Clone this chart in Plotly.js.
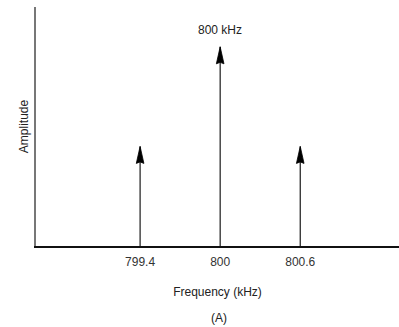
<!DOCTYPE html>
<html>
<head>
<meta charset="utf-8">
<script src="https://cdn.plot.ly/plotly-3.0.1.min.js"></script>
<style>html,body{margin:0;padding:0;background:#fff;}#chart{width:399px;height:327px;}</style>
</head>
<body>
<div id="chart"></div>
<script>
// Data
var freqs = [799.4, 800, 800.6];          // kHz
var amps = [0.5, 1.0, 0.5];               // relative amplitude
var tickVals = [799.4, 800, 800.6];
var tickText = ['799.4', '800', '800.6'];
var carrierLabel = '800 kHz';
var carrierFreq = 800;
var carrierAmp = 1.0;

// Stems built from the data arrays
var sx = [], sy = [];
for (var i = 0; i < freqs.length; i++) {
  sx.push(freqs[i], freqs[i], null);
  sy.push(0, amps[i], null);
}

var stems = {
  x: sx, y: sy, type: 'scatter', mode: 'lines',
  line: {color: '#1a1a1a', width: 1.2},
  hoverinfo: 'skip', showlegend: false
};

// Arrowheads: pixel-sized triangles anchored at each data tip
var shapes = freqs.map(function (f, i) {
  return {
    type: 'path', xref: 'x', yref: 'y',
    xsizemode: 'pixel', ysizemode: 'pixel',
    xanchor: f, yanchor: amps[i],
    path: 'M0,0 L-3.8,-17 L0,-15.5 L3.8,-17 Z',
    fillcolor: '#000', line: {color: '#000', width: 0.8}
  };
});

var fontFam = 'Liberation Sans, Arial, sans-serif';

var layout = {
  width: 399, height: 327,
  margin: {l: 36, r: 0, t: 7, b: 81, pad: 0},
  paper_bgcolor: '#fff', plot_bgcolor: '#fff',
  font: {family: fontFam, size: 12, color: '#222'},
  xaxis: {
    range: [798.62, 801.34],
    tickvals: tickVals, ticktext: tickText,
    ticks: '', showgrid: false, zeroline: false,
    showline: true, linecolor: '#111', linewidth: 1.6,
    tickfont: {family: fontFam, size: 12, color: '#333'},
    ticklabelstandoff: 4,
    title: {text: 'Frequency (kHz)', font: {family: fontFam, size: 12, color: '#222'}, standoff: 19},
    fixedrange: true
  },
  yaxis: {
    range: [0, 1.2],
    showticklabels: false, ticks: '', showgrid: false, zeroline: false,
    showline: true, linecolor: '#777', linewidth: 2,
    title: {text: 'Amplitude', font: {family: fontFam, size: 12, color: '#222'}, standoff: 3},
    fixedrange: true
  },
  shapes: shapes,
  annotations: [
    {
      x: carrierFreq, y: carrierAmp, xref: 'x', yref: 'y',
      text: carrierLabel, showarrow: false,
      yanchor: 'middle', yshift: 17,
      font: {family: fontFam, size: 12, color: '#222'}
    },
    {
      x: 0.505, y: 0, xref: 'paper', yref: 'paper',
      text: '(A)', showarrow: false,
      yanchor: 'middle', yshift: -72,
      font: {family: fontFam, size: 12, color: '#222'}
    }
  ],
  showlegend: false
};

Plotly.newPlot('chart', [stems], layout, {displayModeBar: false, staticPlot: true});
</script>
</body>
</html>
